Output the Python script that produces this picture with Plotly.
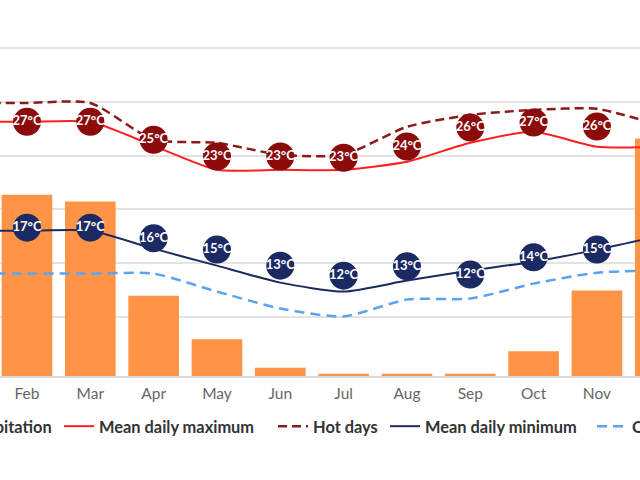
import plotly.graph_objects as go

months = ["Jan", "Feb", "Mar", "Apr", "May", "Jun", "Jul", "Aug", "Sep", "Oct", "Nov", "Dec"]

# Precipitation (mm)
precip = [290, 242, 233, 107, 49, 11, 3, 3, 3, 33, 114, 317]

# Line series (°C)
mean_max_line = [27.13, 27.13, 27.13, 24.9, 22.67, 22.67, 22.67, 23.42, 25.18, 26.2, 24.81, 24.81]
hot_days_line = [28.89, 28.89, 28.89, 25.46, 25.18, 24.07, 24.07, 26.67, 27.78, 28.24, 28.34, 26.8]
mean_min_line = [17.01, 17.01, 17.01, 15.34, 13.76, 12.18, 11.35, 12.37, 13.3, 14.13, 15.25, 16.55]
cold_nights_line = [13.02, 13.02, 13.02, 13.02, 11.35, 9.77, 9.03, 10.61, 10.7, 12.09, 13.11, 13.3]

# Monthly label values and their positions (°C)
max_labels = [27, 27, 27, 25, 23, 23, 23, 24, 26, 27, 26, 26]
max_label_pos = [27.13, 27.13, 27.13, 25.46, 23.91, 23.91, 23.79, 24.84, 26.6, 27.07, 26.69, 26.57]
min_labels = [17, 17, 17, 16, 15, 13, 12, 13, 12, 14, 15, 16]
min_label_pos = [17.29, 17.29, 17.29, 16.3, 15.25, 13.76, 12.83, 13.7, 12.93, 14.53, 15.25, 15.9]

grid_vals = [9, 14, 19, 24, 29, 34]

x = list(range(12))
FONT = "Lato"
EXTRA = 200  # hidden width on each side (the reference is a crop of a wider chart)
SMOOTH = 0.6

fig = go.Figure()

fig.add_trace(go.Bar(
    x=x, y=precip, name="Precipitation", marker_color="#ff9447",
    marker_line_width=0, width=0.8, yaxis="y", legend="legend",
))
fig.add_trace(go.Scatter(
    x=x, y=mean_max_line, name="Mean daily maximum", mode="lines",
    line=dict(color="#ff1f1f", width=2, shape="spline", smoothing=SMOOTH),
    yaxis="y2", legend="legend2",
))
fig.add_trace(go.Scatter(
    x=x, y=hot_days_line, name="Hot days", mode="lines",
    line=dict(color="#8b1a1a", width=2.5, shape="spline", smoothing=SMOOTH, dash="9px,5px"),
    yaxis="y2", legend="legend3",
))
fig.add_trace(go.Scatter(
    x=x, y=mean_min_line, name="Mean daily minimum", mode="lines",
    line=dict(color="#1c2a5e", width=2, shape="spline", smoothing=SMOOTH),
    yaxis="y2", legend="legend4",
))
fig.add_trace(go.Scatter(
    x=x, y=cold_nights_line, name="Cold nights", mode="lines",
    line=dict(color="#5aa2f2", width=2.5, shape="spline", smoothing=SMOOTH, dash="10px,6px"),
    yaxis="y2", legend="legend5",
))
fig.add_trace(go.Scatter(
    x=x, y=max_label_pos, mode="markers+text", showlegend=False,
    marker=dict(size=28, color="#8b0a0a", line_width=0),
    text=[f"{v}°C" for v in max_labels], textposition="middle center",
    textfont=dict(family=FONT, size=13, color="white", weight="bold"),
    yaxis="y2", hoverinfo="skip",
))
fig.add_trace(go.Scatter(
    x=x, y=min_label_pos, mode="markers+text", showlegend=False,
    marker=dict(size=28, color="#1b2a63", line_width=0),
    text=[f"{v}°C" for v in min_labels], textposition="middle center",
    textfont=dict(family=FONT, size=13, color="white", weight="bold"),
    yaxis="y2", hoverinfo="skip",
))

legend_font = dict(family=FONT, size=16.4, color="#333333", weight="bold")


def leg(xpos):
    return dict(orientation="h", x=xpos, xanchor="left", y=-0.146, yanchor="middle",
                font=legend_font, bgcolor="rgba(0,0,0,0)")


fig.update_layout(
    width=640 + 2 * EXTRA, height=480,
    margin=dict(l=EXTRA, r=EXTRA, t=30, b=103.5, autoexpand=False),
    paper_bgcolor="white", plot_bgcolor="white",
    font=dict(family=FONT),
    xaxis=dict(
        range=[0.574, 10.68], tickvals=x, ticktext=months,
        tickfont=dict(family=FONT, size=15.5, color="#666666"),
        showgrid=False, zeroline=False, showline=True,
        linecolor="#dadada", linewidth=2, ticks="", ticklabelstandoff=2,
    ),
    yaxis=dict(range=[0, 462], showgrid=False, zeroline=False,
               showticklabels=False, ticks=""),
    yaxis2=dict(range=[3.5, 35.67], overlaying="y", side="right",
                tickvals=grid_vals, showgrid=True, gridcolor="#e3e3e3",
                gridwidth=2, showticklabels=False, zeroline=False, ticks=""),
    legend=leg(-0.128),
    legend2=leg(0.0922),
    legend3=leg(0.4266),
    legend4=leg(0.6016),
    legend5=leg(0.925),
    showlegend=True,
)

post = (
    "document.body.style.margin='0';"
    "document.body.style.overflow='hidden';"
    "var el=document.getElementById('{plot_id}');"
    "el.style.marginLeft='-" + str(EXTRA) + "px';"
)
fig.write_html("out.html", post_script=post, config={"displayModeBar": False})
